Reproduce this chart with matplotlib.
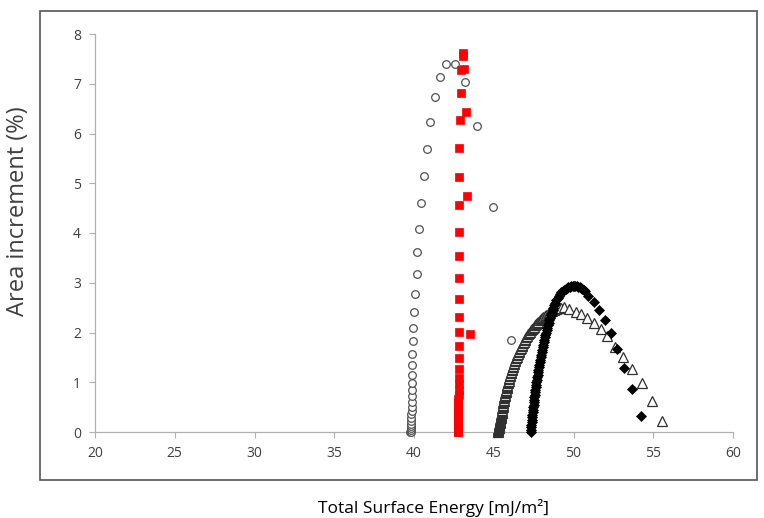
import matplotlib
matplotlib.use("Agg")
import matplotlib.pyplot as plt
from matplotlib.patches import Rectangle

# ---- data ----
circle_x = [39.78, 39.79, 39.80, 39.80, 39.81, 39.82, 39.82, 39.83, 39.84, 39.85,
            39.85, 39.86, 39.86, 39.87, 39.88, 39.89, 39.90, 39.87, 39.92, 39.96,
            39.98, 40.04, 40.17, 40.21, 40.34, 40.42, 40.60, 40.80, 41.00, 41.30,
            41.61, 42.00, 42.59, 43.18, 43.93, 44.93, 46.08]
circle_y = [0.00, 0.01, 0.04, 0.09, 0.13, 0.17, 0.23, 0.29, 0.36, 0.43,
            0.51, 0.61, 0.72, 0.84, 0.98, 1.15, 1.34, 1.57, 1.82, 2.09,
            2.42, 2.77, 3.18, 3.61, 4.09, 4.60, 5.15, 5.69, 6.23, 6.73,
            7.13, 7.39, 7.39, 7.04, 6.16, 4.52, 1.85]

square_x = [42.78, 42.78, 42.78, 42.78, 42.78, 42.78, 42.78, 42.78, 42.78, 42.78, 42.78,
            42.78, 42.78, 42.78, 42.78, 42.78, 42.78, 42.78, 42.79, 42.79, 42.79,
            42.79, 42.80, 42.80, 42.80, 42.80, 42.80, 42.80, 42.80, 42.80, 42.80,
            42.80, 42.84, 42.84, 42.88, 42.93, 42.95, 43.05, 43.05,
            43.51, 43.34, 43.26, 43.15]
square_y = [0.00, 0.01, 0.02, 0.04, 0.06, 0.08, 0.11, 0.14, 0.17, 0.21, 0.25,
            0.29, 0.34, 0.39, 0.45, 0.51, 0.58, 0.66, 0.75, 0.85, 0.96,
            1.09, 1.26, 1.49, 1.73, 2.01, 2.31, 2.68, 3.09, 3.54, 4.03,
            4.56, 5.13, 5.70, 6.28, 6.82, 7.28, 7.55, 7.62,
            1.96, 4.75, 6.43, 7.30]

triangle_x = [45.25, 45.26, 45.27, 45.28, 45.29, 45.30, 45.31, 45.32, 45.33, 45.34,
              45.35, 45.36, 45.37, 45.38, 45.39, 45.40, 45.41, 45.42, 45.43, 45.44,
              45.45, 45.47, 45.48, 45.49, 45.50, 45.52, 45.53, 45.54, 45.55, 45.57,
              45.58, 45.60, 45.61, 45.63, 45.64, 45.66, 45.67, 45.69, 45.70, 45.72,
              45.74, 45.76, 45.78, 45.80, 45.82, 45.84, 45.86, 45.88, 45.91, 45.93,
              45.96, 45.98, 46.01, 46.04, 46.07, 46.10, 46.13, 46.16, 46.19, 46.22,
              46.26, 46.29, 46.33, 46.36, 46.40, 46.44, 46.48, 46.52, 46.56, 46.60,
              46.65, 46.69, 46.74, 46.78, 46.83, 46.88, 46.93, 46.98, 47.04, 47.09,
              47.15, 47.21, 47.27, 47.33, 47.39, 47.45, 47.52, 47.59, 47.66, 47.73,
              47.80, 47.87, 47.95, 48.03, 48.11, 48.19, 48.28, 48.37, 48.46, 48.55,
              48.65, 48.75, 48.84, 48.93, 49.02, 49.11, 49.21,
              49.40, 49.74, 50.14, 50.49, 50.87, 51.27, 51.70, 52.10, 52.62, 53.12,
              53.69, 54.27, 54.92, 55.55]
triangle_y = [0.00, 0.015, 0.03, 0.045, 0.06, 0.075, 0.09, 0.105, 0.12, 0.135,
              0.15, 0.165, 0.18, 0.195, 0.21, 0.23, 0.25, 0.27, 0.29, 0.31,
              0.33, 0.35, 0.37, 0.39, 0.41, 0.43, 0.45, 0.475, 0.50, 0.525,
              0.55, 0.575, 0.60, 0.625, 0.65, 0.675, 0.70, 0.725, 0.75, 0.775,
              0.80, 0.825, 0.85, 0.875, 0.90, 0.925, 0.95, 0.975, 1.00, 1.03,
              1.06, 1.09, 1.12, 1.15, 1.18, 1.21, 1.24, 1.27, 1.30, 1.33,
              1.36, 1.39, 1.42, 1.45, 1.48, 1.51, 1.54, 1.57, 1.60, 1.63,
              1.66, 1.69, 1.72, 1.75, 1.78, 1.81, 1.84, 1.87, 1.90, 1.93,
              1.96, 1.99, 2.02, 2.045, 2.07, 2.095, 2.12, 2.145, 2.17, 2.195,
              2.22, 2.245, 2.27, 2.295, 2.32, 2.34, 2.36, 2.38, 2.40, 2.42,
              2.44, 2.455, 2.47, 2.48, 2.49, 2.495, 2.50,
              2.51, 2.47, 2.42, 2.37, 2.30, 2.20, 2.07, 1.92, 1.71, 1.51,
              1.27, 0.98, 0.63, 0.22]

diamond_x = [47.32, 47.33, 47.35, 47.36, 47.38, 47.39, 47.41, 47.42, 47.44, 47.46,
             47.48, 47.50, 47.51, 47.53, 47.55, 47.57, 47.59, 47.61, 47.63, 47.65,
             47.67, 47.70, 47.72, 47.75, 47.77, 47.80, 47.82, 47.85, 47.88, 47.91,
             47.94, 47.97, 48.00, 48.03, 48.06, 48.10, 48.13, 48.17, 48.20, 48.24,
             48.27, 48.31, 48.35, 48.40, 48.44, 48.49, 48.53, 48.58, 48.63, 48.69,
             48.74, 48.80, 48.86, 48.93, 49.00, 49.08, 49.15, 49.24, 49.32, 49.41,
             49.50, 49.59, 49.68, 49.77, 49.85, 49.94, 50.02, 50.11, 50.20, 50.29,
             50.38, 50.47, 50.56, 50.65, 50.74,
             50.93, 51.31, 51.62, 51.97, 52.35, 52.73, 53.19, 53.67, 54.23]
diamond_y = [0.00, 0.05, 0.10, 0.15, 0.20, 0.25, 0.30, 0.35, 0.40, 0.45,
             0.50, 0.55, 0.60, 0.65, 0.70, 0.75, 0.80, 0.85, 0.90, 0.95,
             1.00, 1.05, 1.10, 1.15, 1.20, 1.25, 1.30, 1.35, 1.40, 1.45,
             1.50, 1.55, 1.60, 1.65, 1.70, 1.75, 1.80, 1.85, 1.90, 1.95,
             2.00, 2.05, 2.10, 2.15, 2.20, 2.25, 2.30, 2.35, 2.40, 2.45,
             2.50, 2.55, 2.60, 2.65, 2.70, 2.74, 2.78, 2.81, 2.84, 2.86,
             2.88, 2.90, 2.91, 2.92, 2.93, 2.94, 2.94, 2.94, 2.93, 2.92,
             2.91, 2.89, 2.88, 2.86, 2.83,
             2.74, 2.62, 2.45, 2.25, 2.00, 1.67, 1.29, 0.86, 0.32]

x_ticks = [20, 25, 30, 35, 40, 45, 50, 55, 60]
y_ticks = [0, 1, 2, 3, 4, 5, 6, 7, 8]
x_label = "Total Surface Energy [mJ/m²]"
y_label = "Area increment (%)"

# ---- figure ----
plt.rcParams['font.family'] = ['Open Sans', 'DejaVu Sans']
fig = plt.figure(figsize=(7.64, 5.18), dpi=100)
ax = fig.add_axes([95/764, 86/518, 638/764, 398/518])

ax.plot(circle_x, circle_y, linestyle='none', marker='o', ms=5.5,
        mfc='white', mec='#505050', mew=0.9, zorder=3)
ax.plot(triangle_x, triangle_y, linestyle='none', marker='^', ms=6.5,
        mfc='white', mec='#303030', mew=0.9, zorder=3)
ax.plot(diamond_x, diamond_y, linestyle='none', marker='D', ms=5,
        mfc='black', mec='black', mew=0.5, zorder=4)
ax.plot(square_x, square_y, linestyle='none', marker='s', ms=5.8,
        mfc='#ff0000', mec='#ff0000', mew=0.5, zorder=5)

ax.set_xlim(20, 60)
ax.set_ylim(0, 8)
ax.set_xticks(x_ticks)
ax.set_yticks(y_ticks)
for s in ['top', 'right']:
    ax.spines[s].set_visible(False)
for s in ['left', 'bottom']:
    ax.spines[s].set_color('#b0b0b0')
    ax.spines[s].set_linewidth(0.9)
ax.tick_params(axis='both', direction='out', length=4, width=0.8, color='#b0b0b0',
               labelsize=10, labelcolor='#404040', pad=6)
for ln in ax.lines:
    ln.set_clip_on(False)

fig.text(18/764, 1 - 211/518, y_label, rotation=90, ha='center', va='center',
         fontsize=17, color='#404040')
fig.text(433/764, 1 - 508/518, x_label, ha='center', va='center',
         fontsize=12.5, color='black')

frame = Rectangle((40/764, 1 - 480/518), (757 - 40)/764, (480 - 11)/518,
                  transform=fig.transFigure, fill=False, edgecolor='#555555',
                  linewidth=1.2)
fig.add_artist(frame)

fig.savefig("out.png", dpi=100)
